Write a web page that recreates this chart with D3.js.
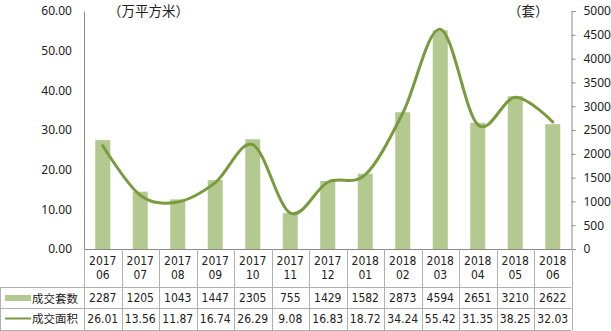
<!DOCTYPE html>
<html lang="zh">
<head>
<meta charset="utf-8">
<title>成交套数与成交面积</title>
<script src="https://cdn.jsdelivr.net/npm/d3@7"></script>
<style>
  body { margin: 0; background: #fff; }
  svg text { fill: #222; }
  .num { font-family: "Liberation Sans Narrow", "DejaVu Sans Condensed", sans-serif; font-size: 12px; }
  .axis-num { font-family: "Noto Sans", "Open Sans", sans-serif; font-size: 12px; }
  .cjk { font-family: "Noto Sans CJK SC", sans-serif; }
</style>
</head>
<body>
<div id="chart"></div>
<script>
  // data
  var years  = ["2017","2017","2017","2017","2017","2017","2017","2018","2018","2018","2018","2018","2018"];
  var months = ["06","07","08","09","10","11","12","01","02","03","04","05","06"];
  var units  = [2287, 1205, 1043, 1447, 2305, 755, 1429, 1582, 2873, 4594, 2651, 3210, 2622];   // 成交套数
  var area   = [26.01, 13.56, 11.87, 16.74, 26.29, 9.08, 16.83, 18.72, 34.24, 55.42, 31.35, 38.25, 32.03]; // 成交面积
  var leftTicks  = [0, 10, 20, 30, 40, 50, 60];
  var rightTicks = [0, 500, 1000, 1500, 2000, 2500, 3000, 3500, 4000, 4500, 5000];

  var W = 611, H = 331;
  var x0 = 84, x1 = 571.5, yTop = 11, yBot = 249;
  var rowLines = [249, 287, 308, 330];

  var barColor = "#b3c98f", lineColor = "#7a9a3e", gridColor = "#b0b0b0";

  var svg = d3.select("#chart").append("svg")
      .attr("width", W).attr("height", H);

  var idx = d3.range(units.length);
  var x = d3.scaleBand().domain(idx).range([x0, x1]).paddingInner(0).paddingOuter(0);
  var yL = d3.scaleLinear().domain([0, 60]).range([yBot, yTop]);
  var yR = d3.scaleLinear().domain([0, 5000]).range([yBot, yTop]);

  // bars
  var bw = x.bandwidth() * 0.4;
  svg.append("g").selectAll("rect").data(idx).join("rect")
    .attr("x", function(i){ return x(i) + (x.bandwidth() - bw) / 2; })
    .attr("y", function(i){ return yR(units[i]); })
    .attr("width", bw)
    .attr("height", function(i){ return yBot - yR(units[i]); })
    .attr("fill", barColor);

  // smoothed line
  var line = d3.line()
    .x(function(i){ return x(i) + x.bandwidth() / 2; })
    .y(function(i){ return yL(area[i]); })
    .curve(d3.curveCardinal.tension(0));
  svg.append("path")
    .attr("d", line(idx))
    .attr("fill", "none")
    .attr("stroke", lineColor)
    .attr("stroke-width", 3)
    .attr("stroke-linecap", "round");

  // left axis
  var gL = svg.append("g").attr("transform", "translate(" + x0 + ",0)")
    .call(d3.axisLeft(yL).tickValues(leftTicks).tickSize(0).tickPadding(12).tickFormat(d3.format(".2f")));
  gL.select(".domain").attr("stroke", "#8a8a8a");
  gL.selectAll("text").attr("class", "axis-num").attr("fill", "#222");

  // right axis
  var gR = svg.append("g").attr("transform", "translate(" + x1 + ",0)")
    .call(d3.axisRight(yR).tickValues(rightTicks).tickSizeInner(4).tickSizeOuter(4).tickPadding(8)
      .tickFormat(d3.format("d")));
  gR.select(".domain").attr("stroke", "#8a8a8a");
  gR.selectAll("line").attr("stroke", "#8a8a8a");
  gR.selectAll("text").attr("class", "axis-num").attr("fill", "#222");

  // axis titles
  svg.append("text").attr("class", "cjk").attr("x", 108).attr("y", 16)
    .style("font-size", "13.5px").text("（万平方米）");
  svg.append("text").attr("class", "cjk").attr("x", 508).attr("y", 16)
    .style("font-size", "13.5px").text("（套）");

  // data table
  var grid = svg.append("g").attr("stroke", gridColor).attr("stroke-width", 1);
  grid.append("line").attr("x1", x0).attr("x2", x1).attr("y1", rowLines[0] + 0.5).attr("y2", rowLines[0] + 0.5)
    .attr("stroke", "#8a8a8a");
  rowLines.slice(1).forEach(function(y){
    grid.append("line").attr("x1", 0).attr("x2", x1).attr("y1", y + 0.5).attr("y2", y + 0.5);
  });
  idx.concat([idx.length]).forEach(function(i){
    var xx = (i < idx.length ? x(i) : x1);
    grid.append("line").attr("x1", Math.round(xx) + 0.5).attr("x2", Math.round(xx) + 0.5)
      .attr("y1", yBot).attr("y2", rowLines[3]);
  });
  grid.append("line").attr("x1", 0.5).attr("x2", 0.5).attr("y1", rowLines[1]).attr("y2", rowLines[3]);

  var cells = svg.append("g").attr("text-anchor", "middle");
  idx.forEach(function(i){
    var cx = x(i) + x.bandwidth() / 2;
    cells.append("text").attr("class", "num").attr("x", cx).attr("y", 265).text(years[i]);
    cells.append("text").attr("class", "num").attr("x", cx).attr("y", 279).text(months[i]);
    cells.append("text").attr("class", "num").attr("x", cx).attr("y", 302).text(units[i]);
    cells.append("text").attr("class", "num").attr("x", cx).attr("y", 323).text(d3.format(".2f")(area[i]));
  });

  // legend keys in table
  svg.append("rect").attr("x", 5).attr("y", 295).attr("width", 26).attr("height", 6).attr("fill", barColor);
  svg.append("line").attr("x1", 5).attr("x2", 31).attr("y1", 318.5).attr("y2", 318.5)
    .attr("stroke", lineColor).attr("stroke-width", 2);
  svg.append("text").attr("class", "cjk").attr("x", 32).attr("y", 302.5).style("font-size", "11.5px").text("成交套数");
  svg.append("text").attr("class", "cjk").attr("x", 32).attr("y", 323).style("font-size", "11.5px").text("成交面积");
</script>
</body>
</html>
